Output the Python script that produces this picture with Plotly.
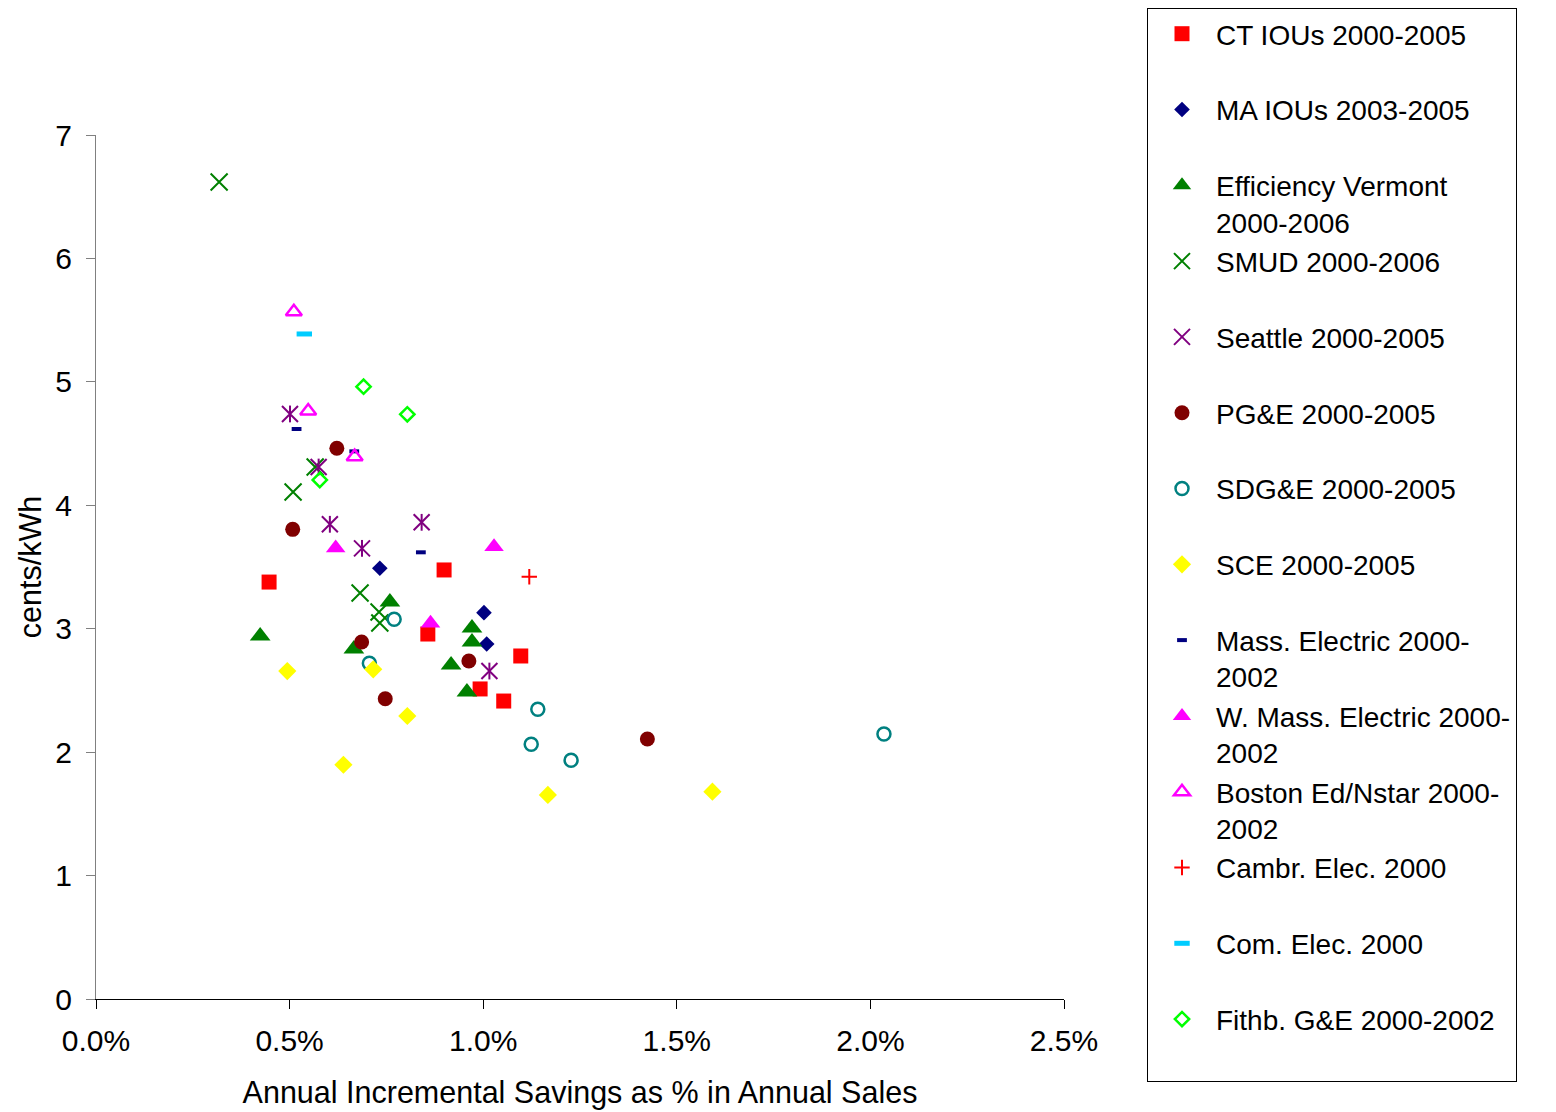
import plotly.graph_objects as go

FONT = "Liberation Sans, Arial, sans-serif"

# x values: annual incremental savings as fraction of annual sales; y: cents/kWh
ct_x = [0.00447, 0.00899, 0.00857, 0.01097, 0.00992, 0.01053]
ct_y = [3.378, 3.476, 2.957, 2.779, 2.512, 2.414]

ma_x = [0.00733, 0.01002, 0.01009]
ma_y = [3.49, 3.13, 2.876]

ev_x = [0.00424, 0.00666, 0.00759, 0.00917, 0.00958, 0.00971, 0.00971]
ev_y = [2.941, 2.836, 3.216, 2.706, 2.487, 3.006, 2.892]

smud_x = [0.00318, 0.00509, 0.00566, 0.00682, 0.00731, 0.00733]
smud_y = [6.619, 4.108, 4.31, 3.289, 3.135, 3.046]

sea_x = [0.00501, 0.00575, 0.00604, 0.00687, 0.00841, 0.01016]
sea_y = [4.740, 4.31, 3.846, 3.651, 3.862, 2.657]

pge_x = [0.00622, 0.00508, 0.00686, 0.00747, 0.00963, 0.01424]
pge_y = [4.462, 3.805, 2.892, 2.433, 2.738, 2.106]

sdge_x = [0.00770, 0.00706, 0.01141, 0.01124, 0.01227, 0.02035]
sdge_y = [3.076, 2.720, 2.347, 2.064, 1.934, 2.147]

sce_x = [0.00494, 0.00716, 0.00804, 0.00639, 0.01167, 0.01592]
sce_y = [2.657, 2.671, 2.293, 1.898, 1.653, 1.680]

mass_x = [0.00518, 0.00667, 0.00839]
mass_y = [4.618, 4.437, 3.619]

wmass_x = [0.00619, 0.01028, 0.00864]
wmass_y = [3.654, 3.664, 3.044]

bos_x = [0.00511, 0.00548, 0.00668]
bos_y = [5.568, 4.764, 4.394]

camb_x = [0.01119]
camb_y = [3.421]

com_x = [0.00538]
com_y = [5.388]

fit_x = [0.00691, 0.00804, 0.00578]
fit_y = [4.961, 4.737, 4.205]

x_ticks = [0, 0.005, 0.01, 0.015, 0.02, 0.025]
y_ticks = [0, 1, 2, 3, 4, 5, 6, 7]

NB = "<br>\u00a0"

fig = go.Figure()

def add(x, y, name, symbol, color, size, lw=0, filled=True, showlegend=True, group=None):
    marker = dict(symbol=symbol, size=size)
    if filled:
        marker.update(color=color, line=dict(width=0))
    else:
        marker.update(color=color, line=dict(color=color, width=lw))
    fig.add_trace(go.Scatter(x=x, y=y, mode="markers", name=name, marker=marker,
                             showlegend=showlegend, legendgroup=group or name))

add(ct_x, ct_y, "CT IOUs 2000-2005" + NB, "square", "#FF0000", 15)
add(ma_x, ma_y, "MA IOUs 2003-2005" + NB, "diamond", "#000080", 12)
add(ev_x, ev_y, "Efficiency Vermont<br>2000-2006", "triangle-up", "#008000", 18)
add(smud_x, smud_y, "SMUD 2000-2006" + NB, "x-thin-open", "#008000", 17, lw=2, filled=False)
add(sea_x, sea_y, "Seattle 2000-2005" + NB, "x-thin-open", "#800080", 16, lw=2, filled=False, group="sea")
add(sea_x, sea_y, "Seattle", "line-ns-open", "#800080", 12, lw=2, filled=False, showlegend=False, group="sea")
add(pge_x, pge_y, "PG&E 2000-2005" + NB, "circle", "#800000", 15)
add(sdge_x, sdge_y, "SDG&E 2000-2005" + NB, "circle-open", "#008080", 13, lw=2.5, filled=False)
add(sce_x, sce_y, "SCE 2000-2005" + NB, "diamond", "#FFFF00", 14)
add(mass_x, mass_y, "Mass. Electric 2000-<br>2002", "line-ew-open", "#000080", 7, lw=4, filled=False)
add(wmass_x, wmass_y, "W. Mass. Electric 2000-<br>2002", "triangle-up", "#FF00FF", 17)
add(bos_x, bos_y, "Boston Ed/Nstar 2000-<br>2002", "triangle-up-open", "#FF00FF", 14, lw=2.5, filled=False)
add(camb_x, camb_y, "Cambr. Elec. 2000" + NB, "cross-thin-open", "#FF0000", 11, lw=2, filled=False)
add(com_x, com_y, "Com. Elec. 2000" + NB, "line-ew-open", "#00CCFF", 11, lw=5, filled=False)
add(fit_x, fit_y, "Fithb. G&E 2000-2002" + NB, "diamond-open", "#00FF00", 11, lw=2.5, filled=False)

# page body has an 8px margin, so the figure is sized/offset to compensate
fig.update_layout(
    width=1548, height=1104,
    paper_bgcolor="white", plot_bgcolor="white",
    font=dict(family=FONT, size=30, color="black"),
    margin=dict(l=88, r=492, t=127, b=113, autoexpand=False),
    showlegend=True,
    legend=dict(
        xref="container", yref="container",
        x=1139 / 1548, y=1.0, xanchor="left", yanchor="top",
        bordercolor="black", borderwidth=1, bgcolor="white",
        font=dict(family=FONT, size=28, color="black"),
        valign="top", itemwidth=58, tracegroupgap=0, maxheight=1100,
    ),
    xaxis=dict(
        range=[0, 0.025], tickvals=x_ticks, tickformat=".1%",
        showline=True, linecolor="black", linewidth=1,
        ticks="outside", ticklen=9, tickcolor="black", tickwidth=1,
        ticklabelstandoff=6,
        showgrid=False, zeroline=False, automargin=False,
        title=dict(text="Annual Incremental Savings as % in Annual Sales", standoff=25,
                   font=dict(size=30.5)),
    ),
    yaxis=dict(
        range=[0, 7], tickvals=y_ticks,
        showline=True, linecolor="#808080", linewidth=1,
        ticks="outside", ticklen=9, tickcolor="#808080", tickwidth=1,
        ticklabelstandoff=8,
        showgrid=False, zeroline=False, automargin=False,
        title=dict(text="cents/kWh", standoff=4, font=dict(size=30.5)),
    ),
)

fig.write_html("out.html")
